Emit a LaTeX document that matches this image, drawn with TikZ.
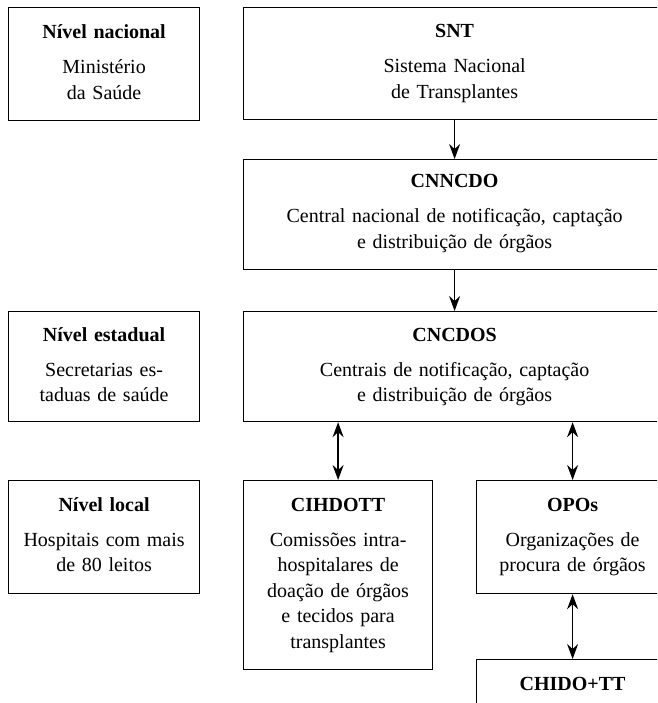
\documentclass[tikz,border=0pt]{standalone}
\usepackage{fontspec}
\setmainfont{Liberation Serif}
\usetikzlibrary{arrows.meta}
\begin{document}
\begin{tikzpicture}[x=1pt,y=-1pt,
  box/.style={draw=black, line width=1.2pt, rectangle, inner sep=0pt, anchor=north west},
  txt/.style={align=center, text width=420pt, anchor=base, inner sep=0pt, font=\fontsize{20}{25.5}\selectfont},
  tip/.tip={Stealth[length=15pt,width=11pt,inset=5pt]},
  arr/.style={line width=1.6pt, -tip},
  darr/.style={line width=1.6pt, tip-tip}]
\useasboundingbox (0,0) rectangle (657,703);
\fill[white] (0,0) rectangle (657,703);
\clip (0,0) rectangle (657,703);
% boxes
\node[box, minimum width=191pt, minimum height=113pt] (l1) at (8,7) {};
\node[box, minimum width=422pt, minimum height=112pt] (snt) at (243,7) {};
\node[box, minimum width=422pt, minimum height=110pt] (cnncdo) at (243,159) {};
\node[box, minimum width=191pt, minimum height=110pt] (l2) at (8,311) {};
\node[box, minimum width=422pt, minimum height=110pt] (cncdos) at (243,311) {};
\node[box, minimum width=191pt, minimum height=113pt] (l3) at (8,480) {};
\node[box, minimum width=189pt, minimum height=189pt] (cih) at (243,480) {};
\node[box, minimum width=192pt, minimum height=113pt] (opo) at (476,480) {};
\node[box, minimum width=192pt, minimum height=113pt] (chido) at (476,659) {};
% texts
\node[txt] (l1t) at ([yshift=-32pt]l1.north) {\textbf{Nível nacional}\\[9.5pt]Ministério\\da Saúde};
\node[txt] (sntt) at ([yshift=-31pt]snt.north) {\textbf{SNT}\\[9.5pt]Sistema Nacional\\de Transplantes};
\node[txt] (cnncdot) at ([yshift=-29pt]cnncdo.north) {\textbf{CNNCDO}\\[9.5pt]Central nacional de notificação, captação\\e distribuição de órgãos};
\node[txt] (l2t) at ([yshift=-30pt]l2.north) {\textbf{Nível estadual}\\[9.5pt]Secretarias es-\\taduas de saúde};
\node[txt] (cncdost) at ([yshift=-30pt]cncdos.north) {\textbf{CNCDOS}\\[9.5pt]Centrais de notificação, captação\\e distribuição de órgãos};
\node[txt] (l3t) at ([yshift=-31pt]l3.north) {\textbf{Nível local}\\[9.5pt]Hospitais com mais\\de 80 leitos};
\node[txt] (ciht) at ([yshift=-31pt]cih.north) {\textbf{CIHDOTT}\\[9.5pt]Comissões intra-\\hospitalares de\\doação de órgãos\\e tecidos para\\transplantes};
\node[txt] (opot) at ([yshift=-31pt]opo.north) {\textbf{OPOs}\\[9.5pt]Organizações de\\procura de órgãos};
\node[txt] (chidot) at ([yshift=-31pt]chido.north) {\textbf{CHIDO+TT}};
% connectors
\draw[arr] (snt.south) -- (cnncdo.north);
\draw[arr] (cnncdo.south) -- (cncdos.north);
\draw[darr] (cih.north |- cncdos.south) -- (cih.north);
\draw[darr] (opo.north |- cncdos.south) -- (opo.north);
\draw[darr] (opo.south) -- (chido.north);
\end{tikzpicture}
\end{document}
